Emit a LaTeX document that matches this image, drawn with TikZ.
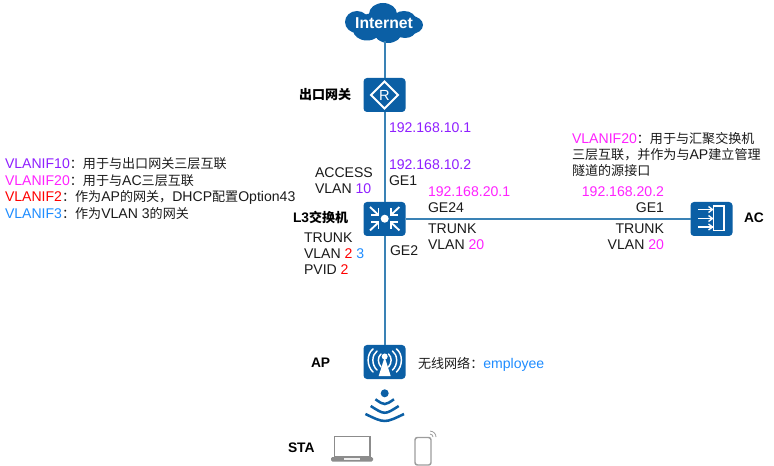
\documentclass[tikz,border=0pt]{standalone}
\usepackage{fontspec}
\setmainfont{Liberation Sans}
\newfontfamily\cjkfam{Noto Sans CJK SC}
\definecolor{devblue}{HTML}{0B5FA5}
\definecolor{linkblue}{HTML}{3A82B5}
\definecolor{vpurple}{HTML}{8F1FFF}
\definecolor{vmagenta}{HTML}{FF22FF}
\definecolor{vred}{HTML}{FF0000}
\definecolor{vblue}{HTML}{1E8CFF}
\definecolor{txt}{HTML}{1A1A1A}
\definecolor{hostgray}{HTML}{8C8C8C}
\newcommand{\zh}[1]{{\cjkfam\fontsize{9.8pt}{11pt}\selectfont #1}}
\newcommand{\zhb}[1]{{\cjkfam\bfseries\fontsize{9.75pt}{11pt}\selectfont #1}}
\newcommand{\cc}[2]{\textcolor{#1}{#2}}
\tikzset{
  lbl/.style={inner sep=0pt,outer sep=0pt,anchor=base west,text=txt,font=\fontsize{10.55pt}{12pt}\selectfont},
  lblr/.style={lbl,anchor=base east},
  head/.style={lbl,text=black,font=\bfseries\fontsize{10.35pt}{12pt}\selectfont},
  device/.style={draw=none,fill=devblue,rounded corners=2.6pt,minimum width=31.5pt,minimum height=25.5pt,inner sep=0pt,outer sep=0pt},
  link/.style={draw=linkblue,line width=1.5pt},
  glyph/.style={draw=white,line width=1.4pt,line join=miter},
  wave/.style={draw=white,line width=1.1pt,line cap=round},
  ripple/.style={draw=devblue,line width=1.9pt},
  host/.style={draw=hostgray,line width=1pt}
}
\begin{document}
\begin{tikzpicture}[x=0.75pt,y=-0.75pt]
\useasboundingbox (0,0) rectangle (774,466);
% cloud outline built from overlapping ellipses
\fill[devblue] (384,24) ellipse (30 and 12)
  (357,22) ellipse (12 and 11) (383,14) ellipse (14 and 11)
  (404,20) ellipse (12 and 9) (411,25) ellipse (12 and 9)
  (367,30) ellipse (14 and 10.5) (388,32) ellipse (14 and 11) (405,30) ellipse (11 and 8);
\node[inner sep=0pt,outer sep=0pt,minimum width=1pt,minimum height=1pt] (cloud) at (384.5,41) {};
\node[inner sep=0pt,text=white,font=\bfseries\fontsize{11.8pt}{12pt}\selectfont] (inet) at (384,23) {Internet};
% devices
\node[device] (router) at (384.5,95) {};
\node[device] (l3sw) at (384.5,219) {};
\node[device] (ac) at (711.5,219) {};
\node[device] (ap) at (384.5,362) {};
% links
\draw[link] (cloud.center) -- (router.north);
\draw[link] (router.south) -- (l3sw.north);
\draw[link] (l3sw.south) -- (ap.north);
\draw[link] (l3sw.east) -- (ac.west);
% router glyph
\draw[glyph,line width=1.5pt] (384.5,81.5) -- (398,95) -- (384.5,108.5) -- (371,95) -- cycle;
\node[inner sep=0pt,text=white,font=\fontsize{11pt}{12pt}\selectfont] (rlet) at (384.5,95) {R};
% switch glyph: four chevrons converging on a hub
\fill[white] (384.7,218.7) circle (4);
\foreach \sx/\sy in {-1/-1,1/-1,-1/1,1/1}{
  \draw[glyph] (384.7+\sx*14.7,218.7+\sy*11.7) -- (384.7+\sx*6.2,218.7+\sy*3.7);
  \draw[glyph] (384.7+\sx*6.2,218.7+\sy*10.2) -- (384.7+\sx*6.2,218.7+\sy*3.7) -- (384.7+\sx*13.7,218.7+\sy*3.7);
}
% access controller glyph
\draw[glyph,line width=1.1pt] (713.5,206) rectangle (724,230.5);
\foreach \yy in {209.5,218.5,227}{
  \draw[glyph,line width=1.1pt] (698,\yy) -- (712.5,\yy);
  \draw[glyph,line width=1pt] (708.5,\yy-3) -- (712.5,\yy) -- (708.5,\yy+3);
}
% access point glyph: mast with radio waves
\fill[white] (384.7,356.5) circle (3);
\fill[white] (384.7,357) -- (378.7,376) -- (390.7,376) -- cycle;
\draw[wave] (381,354) .. controls (377.5,357) and (377.5,363) .. (381,367);
\draw[wave] (388.5,354) .. controls (392,357) and (392,363) .. (388.5,367);
\draw[wave] (377,351) .. controls (371.5,355) and (371.5,365) .. (377,370);
\draw[wave] (392.5,351) .. controls (398,355) and (398,365) .. (392.5,370);
\draw[wave] (373,349) .. controls (366.5,354) and (366.5,366) .. (373,372);
\draw[wave] (396.5,349) .. controls (403,354) and (403,366) .. (396.5,372);
% wireless symbol below the access point
\fill[devblue] (384.7,393.3) circle (4);
\draw[ripple] (375.4,399.3) .. controls (384.7,405.6) .. (394,399.3);
\draw[ripple] (370.7,406) .. controls (384.7,415) .. (398.7,406);
\draw[ripple] (365.4,414) .. controls (384.7,423.3) .. (404,414);
% laptop
\draw[host] (334.5,436.5) rectangle (370,457);
\fill[hostgray,rounded corners=1pt] (331,457) rectangle (373,461.5);
\fill[white!85!hostgray] (344,457.5) rectangle (360,460);
% phone
\draw[hostgray!85,line width=1.1pt,rounded corners=1.8pt] (415,437.5) rectangle (431,465);
\draw[hostgray!85,line width=.6pt] (433,437) arc[start angle=0,end angle=90,radius=2.2pt];
\draw[hostgray!85,line width=.6pt] (436,437) arc[start angle=0,end angle=90,radius=4.4pt];
% device captions
\node[head] (t1) at (299,99.5) {\zhb{出口网关}};
\node[head] (t2) at (293,222.5) {L3\zhb{交换机}};
\node[head] (t3) at (311,367.5) {AP};
\node[head] (t4) at (288,452.5) {STA};
\node[head] (t5) at (744,222.5) {AC};
% port labels around the L3 switch
\node[lbl] (p1) at (389,133) {\cc{vpurple}{192.168.10.1}};
\node[lbl] (p2) at (389,169.5) {\cc{vpurple}{192.168.10.2}};
\node[lbl] (p3) at (389,185.5) {GE1};
\node[lbl] (p4) at (315,177.5) {ACCESS};
\node[lbl] (p5) at (315,193.5) {VLAN \cc{vpurple}{10}};
\node[lbl] (p6) at (428,196.5) {\cc{vmagenta}{192.168.20.1}};
\node[lbl] (p7) at (428,212.5) {GE24};
\node[lbl] (p8) at (428,233.5) {TRUNK};
\node[lbl] (p9) at (428,249.5) {VLAN \cc{vmagenta}{20}};
\node[lbl] (p10) at (304,242.5) {TRUNK};
\node[lbl] (p11) at (304,258.5) {VLAN \cc{vred}{2} \cc{vblue}{3}};
\node[lbl] (p12) at (304,274.5) {PVID \cc{vred}{2}};
\node[lbl] (p13) at (390,255.5) {GE2};
% port labels beside the AC
\node[lblr] (q1) at (664,196.5) {\cc{vmagenta}{192.168.20.2}};
\node[lblr] (q2) at (664,212.5) {GE1};
\node[lblr] (q3) at (664,233.5) {TRUNK};
\node[lblr] (q4) at (664,249.5) {VLAN \cc{vmagenta}{20}};
% notes
\node[lbl] (n1) at (5,168.5) {\cc{vpurple}{VLANIF10}\zh{：用于与出口网关三层互联}};
\node[lbl] (n2) at (5,185.5) {\cc{vmagenta}{VLANIF20}\zh{：用于与}AC\zh{三层互联}};
\node[lbl] (n3) at (5,201.5) {\cc{vred}{VLANIF2}\zh{：作为}AP\zh{的网关，}DHCP\zh{配置}Option43};
\node[lbl] (n4) at (5,218.5) {\cc{vblue}{VLANIF3}\zh{：作为}VLAN 3\zh{的网关}};
\node[lbl] (n5) at (572,143.5) {\cc{vmagenta}{VLANIF20}\zh{：用于与汇聚交换机}};
\node[lbl] (n6) at (572,159.5) {\zh{三层互联，并作为与}AP\zh{建立管理}};
\node[lbl] (n7) at (572,175.5) {\zh{隧道的源接口}};
\node[lbl] (n8) at (418,368.5) {\zh{无线网络：}\cc{vblue}{employee}};
\end{tikzpicture}
\end{document}
